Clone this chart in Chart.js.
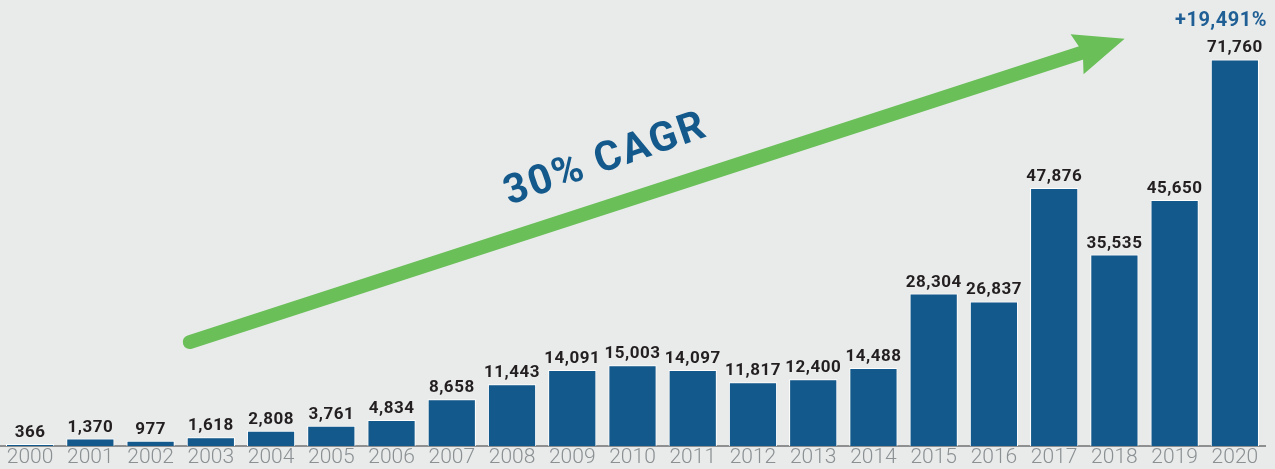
<!DOCTYPE html>
<html>
<head>
<meta charset="utf-8">
<script src="https://cdn.jsdelivr.net/npm/chart.js@4/dist/chart.umd.min.js"></script>
<style>
  html, body { margin: 0; padding: 0; background: #e9ebea; }
  #wrap { width: 1275px; height: 469px; }
</style>
</head>
<body>
<div id="wrap"><canvas id="chart"></canvas></div>
<script>
// data
var years = ['2000', '2001', '2002', '2003', '2004', '2005', '2006', '2007', '2008', '2009', '2010',
             '2011', '2012', '2013', '2014', '2015', '2016', '2017', '2018', '2019', '2020'];
var counts = [366, 1370, 977, 1618, 2808, 3761, 4834, 8658, 11443, 14091, 15003,
              14097, 11817, 12400, 14488, 28304, 26837, 47876, 35535, 45650, 71760];
var growthLabel = '+19,491%';
var cagrLabel = '30% CAGR';
// arrow ends in chart units (category index, value)
var arrowFrom = [2.65, 19300];
var arrowTo = [18.17, 75600];

var BLUE = '#14598b';
var GREEN = '#6abf59';

// value labels above every bar, plus the growth note over the last one
var barLabels = {
    id: 'barLabels',
    afterDatasetsDraw: function (chart) {
        var ctx = chart.ctx;
        var meta = chart.getDatasetMeta(0);
        ctx.save();
        ctx.textAlign = 'center';
        ctx.textBaseline = 'alphabetic';
        ctx.fillStyle = '#231f20';
        ctx.font = 'bold 17px Roboto';
        ctx.letterSpacing = '0.5px';
        meta.data.forEach(function (bar, i) {
            ctx.fillText(counts[i].toLocaleString('en-US'), bar.x, bar.y - 7);
        });
        // growth note is pushed left so it stays inside the canvas
        var last = meta.data[meta.data.length - 1];
        ctx.fillStyle = '#1f5f95';
        ctx.font = 'bold 20px Roboto';
        ctx.textAlign = 'right';
        ctx.fillText(growthLabel, chart.width - 8, last.y - 33);
        ctx.restore();
    }
};

// green trend arrow and the CAGR text
var trendArrow = {
    id: 'trendArrow',
    afterDatasetsDraw: function (chart) {
        var ctx = chart.ctx;
        var xs = chart.scales.x, ys = chart.scales.y;
        var x0 = xs.getPixelForValue(arrowFrom[0]), y0 = ys.getPixelForValue(arrowFrom[1]);
        var x1 = xs.getPixelForValue(arrowTo[0]), y1 = ys.getPixelForValue(arrowTo[1]);
        var ang = Math.atan2(y1 - y0, x1 - x0);
        var headLen = 50, headHalf = 21;

        ctx.save();
        ctx.translate(x0, y0);
        ctx.rotate(ang);
        var len = Math.hypot(x1 - x0, y1 - y0);
        ctx.strokeStyle = GREEN;
        ctx.fillStyle = GREEN;
        ctx.lineWidth = 14;
        ctx.lineCap = 'round';
        ctx.beginPath();
        ctx.moveTo(0, 0);
        ctx.lineTo(len - headLen + 6, 0);
        ctx.stroke();
        ctx.lineCap = 'butt';
        ctx.beginPath();
        ctx.moveTo(len, 0);
        ctx.lineTo(len - headLen, -headHalf);
        ctx.lineTo(len - headLen + 6, 0);
        ctx.lineTo(len - headLen, headHalf);
        ctx.closePath();
        ctx.fill();

        // text sits above the shaft, a bit past a third of the way
        ctx.translate(len * 0.46, -34);
        ctx.rotate(-0.02);
        ctx.fillStyle = BLUE;
        ctx.font = 'bold 41px Roboto';
        ctx.letterSpacing = '2px';
        ctx.textAlign = 'center';
        ctx.textBaseline = 'alphabetic';
        ctx.fillText(cagrLabel, 0, 0);
        ctx.restore();
    }
};

var ctx = document.getElementById('chart').getContext('2d');
var chart = new Chart(ctx, {
    type: 'bar',
    data: {
        labels: years,
        datasets: [{
            data: counts,
            backgroundColor: BLUE,
            borderColor: '#ffffff',
            borderWidth: 1,
            barPercentage: 0.8,
            categoryPercentage: 1.0
        }]
    },
    options: {
        responsive: true,
        maintainAspectRatio: false,
        animation: false,
        layout: { padding: { left: 0, right: 10, top: 0, bottom: 0 } },
        plugins: {
            legend: { display: false },
            tooltip: { enabled: false }
        },
        scales: {
            x: {
                grid: { display: false, drawTicks: false },
                border: { display: true, color: '#8d8f90', width: 2 },
                ticks: {
                    color: '#8b9093',
                    padding: 1,
                    font: { family: 'Roboto', size: 21, weight: '300', lineHeight: 1 },
                    maxRotation: 0,
                    autoSkip: false
                }
            },
            y: {
                display: false,
                min: 0,
                max: 82800
            }
        }
    },
    plugins: [barLabels, trendArrow]
});
</script>
</body>
</html>
